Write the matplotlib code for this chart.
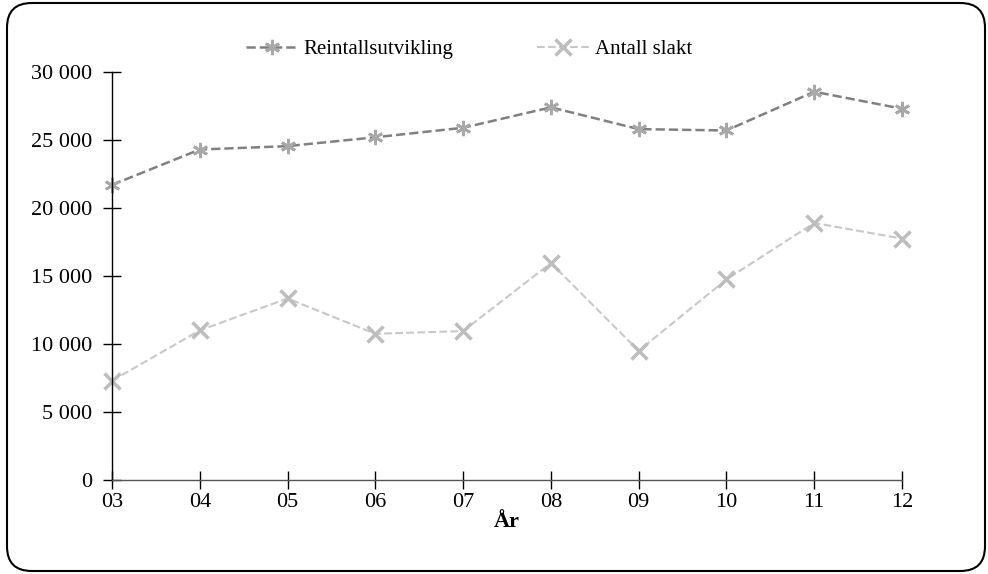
import numpy as np
import matplotlib.pyplot as plt
from matplotlib.patches import FancyBboxPatch

plt.rcParams['font.family'] = ['Liberation Serif', 'DejaVu Serif']

YEARS = ['03', '04', '05', '06', '07', '08', '09', '10', '11', '12']
REINTALL = [21700, 24300, 24550, 25200, 25900, 27400, 25800, 25700, 28550, 27300]
SLAKT = [7300, 11000, 13350, 10750, 10950, 15950, 9500, 14750, 18900, 17750]
Y_TICKS = [0, 5000, 10000, 15000, 20000, 25000, 30000]


def fmt(v):
    return '{:,}'.format(v).replace(',', ' ')


fig = plt.figure(figsize=(9.88, 5.74), dpi=100)
ax = fig.add_axes([112/988, 1-480/574, (902-112)/988, (480-72)/574])

# rounded frame round the whole chart
frame = FancyBboxPatch((7/988, 3/574), 978/988, 568/574,
                       boxstyle='round,pad=0,rounding_size=0.025',
                       transform=fig.transFigure, fill=False,
                       ec='black', lw=1.5, mutation_aspect=988/574)
fig.patches.append(frame)

x = np.arange(len(YEARS))
ax.plot(x, REINTALL, ls='--', color='#808080', lw=1.8, marker=(6, 2, 0),
        ms=11, mec='#a8a8a8', mew=2, label='Reintallsutvikling', clip_on=False)
ax.plot(x, SLAKT, ls='--', color='#c8c8c8', lw=1.5, marker='x',
        ms=11, mec='#bdbdbd', mew=2.5, label='Antall slakt', clip_on=False)

ax.set_xlim(0, len(YEARS) - 1)
ax.set_ylim(0, 30000)
ax.set_xticks(x)
ax.set_xticklabels(YEARS)
ax.set_yticks(Y_TICKS)
ax.set_yticklabels([fmt(v) for v in Y_TICKS])
ax.tick_params(direction='inout', length=13, width=1, labelsize=16)
ax.tick_params(axis='y', pad=8)
ax.tick_params(axis='x', pad=3)
for s in ['top', 'right']:
    ax.spines[s].set_visible(False)
ax.spines['left'].set_linewidth(1)
ax.spines['bottom'].set_linewidth(1)
ax.spines['bottom'].set_color('#555555')

ax.set_xlabel('År', fontsize=16, fontweight='bold', labelpad=0)

ax.legend(loc='center', bbox_to_anchor=(0.452, 1.055), ncol=2, frameon=False,
          fontsize=15, columnspacing=4.0, handlelength=2.5, handletextpad=0.3)

fig.savefig('out.png', dpi=100)
